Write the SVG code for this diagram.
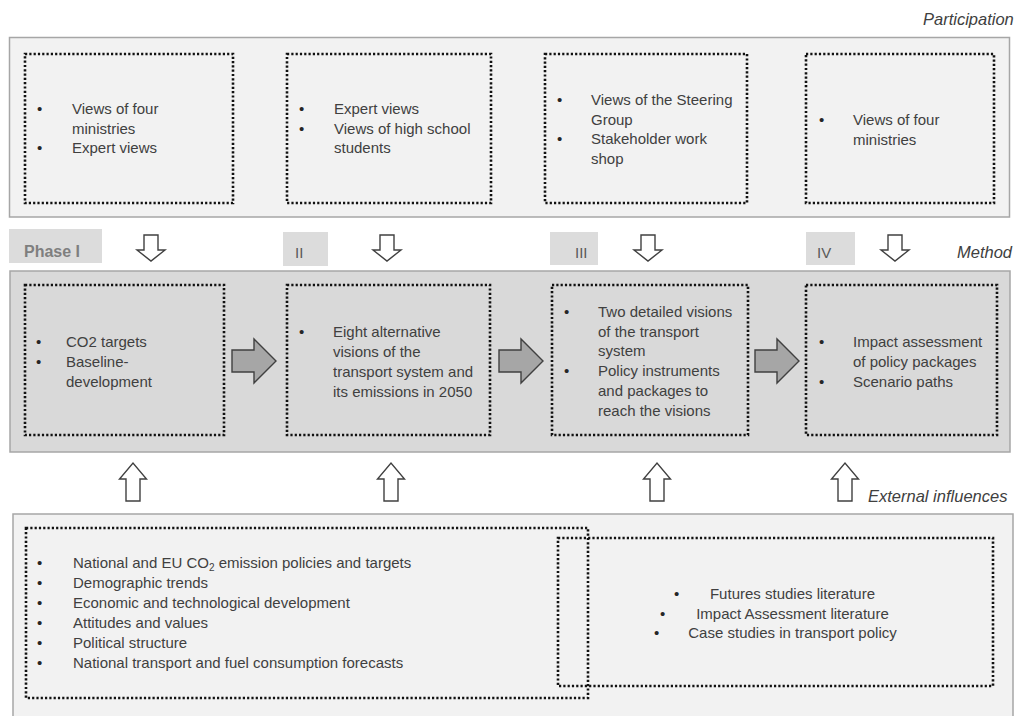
<svg xmlns="http://www.w3.org/2000/svg" width="1018" height="716" viewBox="0 0 1018 716">
<style>
.panelL{fill:#f2f2f2;stroke:#a6a6a6;stroke-width:1.5}
.panelD{fill:#d9d9d9;stroke:#a6a6a6;stroke-width:1.5}
.dot{fill:none;stroke:#111111;stroke-width:2.6;stroke-dasharray:2.2 2.1}
.t{font-family:"Liberation Sans",Arial,sans-serif;font-size:15px;fill:#404040}
.b{font-family:"Liberation Sans",Arial,sans-serif;font-size:15px;fill:#262626}
.lab{font-family:"Liberation Sans",Arial,sans-serif;font-size:16.5px;font-style:italic;fill:#404040}
.ph{fill:#dcdcdc}
.pht{font-family:"Liberation Sans",Arial,sans-serif;font-size:15px;fill:#595959}
.hollow{fill:#ffffff;stroke:#404040;stroke-width:1.4}
.solid{fill:#a6a6a6;stroke:#404040;stroke-width:1.4}
</style>

<text class="lab" x="923" y="25">Participation</text>
<text class="lab" x="957" y="258">Method</text>
<text class="lab" x="868" y="502">External influences</text>

<g id="participation-panel">
<rect class="panelL" x="9.5" y="37.5" width="1000" height="179.5"/>
</g>
<g id="p1">
<rect class="dot" x="25" y="54" width="208" height="149"/>
<text class="b" x="37" y="114">•</text><text class="t" x="72" y="114">Views of four</text>
<text class="t" x="72" y="133.5">ministries</text>
<text class="b" x="37" y="153">•</text><text class="t" x="72" y="153">Expert views</text>
</g>
<g id="p2">
<rect class="dot" x="287" y="54" width="204" height="149"/>
<text class="b" x="299" y="114">•</text><text class="t" x="334" y="114">Expert views</text>
<text class="b" x="299" y="133.5">•</text><text class="t" x="334" y="133.5">Views of high school</text>
<text class="t" x="334" y="153">students</text>
</g>
<g id="p3">
<rect class="dot" x="545" y="54" width="202" height="149"/>
<text class="b" x="557" y="105">•</text><text class="t" x="591" y="105">Views of the Steering</text>
<text class="t" x="591" y="124.6">Group</text>
<text class="b" x="557" y="144.2">•</text><text class="t" x="591" y="144.2">Stakeholder work</text>
<text class="t" x="591" y="163.8">shop</text>
</g>
<g id="p4">
<rect class="dot" x="806" y="54" width="188" height="149"/>
<text class="b" x="819" y="125">•</text><text class="t" x="853" y="125">Views of four</text>
<text class="t" x="853" y="145">ministries</text>
</g>

<g id="phase-labels">
<rect class="ph" x="9" y="229" width="93" height="34"/>
<text x="24" y="257" font-family="Liberation Sans, Arial, sans-serif" font-size="16" font-weight="bold" fill="#7f7f7f">Phase I</text>
<rect class="ph" x="283" y="232" width="45" height="34"/>
<text class="pht" x="295" y="258">II</text>
<rect class="ph" x="550" y="232" width="48" height="33"/>
<text class="pht" x="575" y="258">III</text>
<rect class="ph" x="806" y="232" width="49" height="33"/>
<text class="pht" x="817" y="258">IV</text>
</g>

<g id="method-panel">
<rect class="panelD" x="10" y="271" width="1000" height="181"/>
</g>
<g id="m1">
<rect class="dot" x="25" y="285" width="199" height="150"/>
<text class="b" x="36" y="346.5">•</text><text class="t" x="66" y="346.5">CO2 targets</text>
<text class="b" x="36" y="366.5">•</text><text class="t" x="66" y="366.5">Baseline-</text>
<text class="t" x="66" y="386.5">development</text>
</g>
<g id="m2">
<rect class="dot" x="287" y="285" width="203" height="150"/>
<text class="b" x="299" y="336.7">•</text><text class="t" x="333" y="336.7">Eight alternative</text>
<text class="t" x="333" y="356.7">visions of the</text>
<text class="t" x="333" y="376.7">transport system and</text>
<text class="t" x="333" y="396.7">its emissions in 2050</text>
</g>
<g id="m3">
<rect class="dot" x="552" y="285" width="196" height="150"/>
<text class="b" x="564" y="316.7">•</text><text class="t" x="598" y="316.7">Two detailed visions</text>
<text class="t" x="598" y="336.5">of the transport</text>
<text class="t" x="598" y="356.3">system</text>
<text class="b" x="564" y="376.1">•</text><text class="t" x="598" y="376.1">Policy instruments</text>
<text class="t" x="598" y="395.9">and packages to</text>
<text class="t" x="598" y="415.7">reach the visions</text>
</g>
<g id="m4">
<rect class="dot" x="806" y="285" width="191" height="150"/>
<text class="b" x="819" y="346.7">•</text><text class="t" x="853" y="346.7">Impact assessment</text>
<text class="t" x="853" y="366.7">of policy packages</text>
<text class="b" x="819" y="386.7">•</text><text class="t" x="853" y="386.7">Scenario paths</text>
</g>

<g id="external-panel">
<rect class="panelL" x="13" y="514" width="1000" height="215"/>
</g>
<g id="e1">
<rect class="dot" x="26" y="528" width="562" height="170"/>
<text class="b" x="37" y="568">•</text><text class="t" x="73" y="568">National and EU CO<tspan font-size="10" dy="3">2</tspan><tspan dy="-3"> emission policies and targets</tspan></text>
<text class="b" x="37" y="588">•</text><text class="t" x="73" y="588">Demographic trends</text>
<text class="b" x="37" y="608">•</text><text class="t" x="73" y="608">Economic and technological development</text>
<text class="b" x="37" y="628">•</text><text class="t" x="73" y="628">Attitudes and values</text>
<text class="b" x="37" y="648">•</text><text class="t" x="73" y="648">Political structure</text>
<text class="b" x="37" y="668">•</text><text class="t" x="73" y="668">National transport and fuel consumption forecasts</text>
</g>
<g id="e2">
<rect class="dot" x="558" y="538" width="435" height="148"/>
<text class="b" x="674" y="599">•</text><text class="t" x="792.5" y="599" text-anchor="middle">Futures studies literature</text>
<text class="b" x="660" y="618.5">•</text><text class="t" x="792.5" y="618.5" text-anchor="middle">Impact Assessment literature</text>
<text class="b" x="654" y="638">•</text><text class="t" x="792.5" y="638" text-anchor="middle">Case studies in transport policy</text>
</g>

<g id="connectors">
<path class="hollow" d="M144,235 H158 V250 H165 L151,261 L137,250 H144 Z"/>
<path class="hollow" d="M380,235 H394 V250 H401 L387,261 L373,250 H380 Z"/>
<path class="hollow" d="M641,235 H655 V250 H662 L648,261 L634,250 H641 Z"/>
<path class="hollow" d="M888,235 H902 V250 H909 L895,261 L881,250 H888 Z"/>
<path class="solid" d="M232,350 H254 V339 L276,361 L254,383 V372 H232 Z"/>
<path class="solid" d="M499,350 H521 V339 L543,361 L521,383 V372 H499 Z"/>
<path class="solid" d="M755,350 H777 V339 L799,361 L777,383 V372 H755 Z"/>
<path class="hollow" d="M126,501 V479 H119.5 L133,463 L146.5,479 H140 V501 Z"/>
<path class="hollow" d="M384,501 V479 H377.5 L391,463 L404.5,479 H398 V501 Z"/>
<path class="hollow" d="M650,501 V479 H643.5 L657,463 L670.5,479 H664 V501 Z"/>
<path class="hollow" d="M838,501 V479 H831.5 L845,463 L858.5,479 H852 V501 Z"/>
</g>
</svg>
